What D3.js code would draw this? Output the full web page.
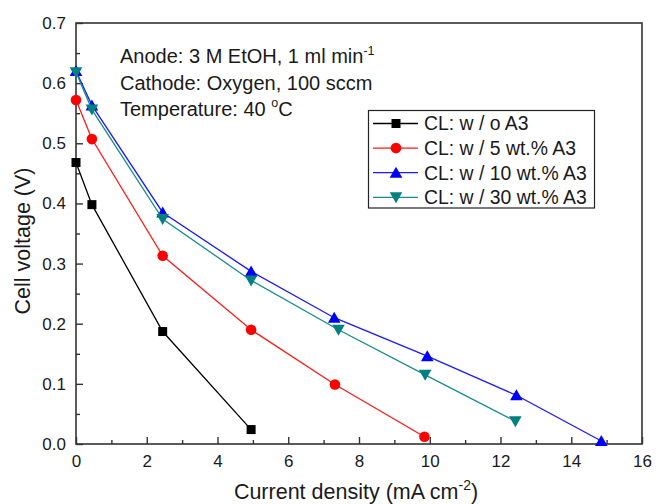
<!DOCTYPE html>
<html>
<head>
<meta charset="utf-8">
<script src="https://cdn.jsdelivr.net/npm/d3@7"></script>
<style>
  body { margin: 0; background: #fff; }
  svg text { font-family: "Liberation Sans", Arial, sans-serif; fill: #1a1a1a; }
</style>
</head>
<body>
<svg id="chart" width="657" height="504"></svg>
<script>
// series data (x: mA cm-2, y: V)
const seriesNames = ['CL: w / o A3', 'CL: w / 5 wt.% A3', 'CL: w / 10 wt.% A3', 'CL: w / 30 wt.% A3'];
const noA3 = [[0, 0.468], [0.45, 0.398], [2.45, 0.187], [4.95, 0.024]];
const a3_5 = [[0, 0.572], [0.45, 0.507], [2.45, 0.313], [4.95, 0.190], [7.32, 0.099], [9.85, 0.012]];
const a3_10 = [[0, 0.620], [0.45, 0.563], [2.45, 0.385], [4.95, 0.287], [7.3, 0.210], [9.93, 0.146], [12.45, 0.081], [14.85, 0.005]];
const a3_30 = [[0, 0.618], [0.45, 0.556], [2.45, 0.374], [4.95, 0.272], [7.42, 0.190], [9.87, 0.115], [12.42, 0.038]];
const xTicks = [0, 2, 4, 6, 8, 10, 12, 14, 16];
const yTicks = [0.0, 0.1, 0.2, 0.3, 0.4, 0.5, 0.6, 0.7];

let colors = ['#000000', '#ff0000', '#0000ff', '#008080'];
let lineColors = ['#000000', '#ff1a1a', '#1a1aff', '#1a8c8c'];
let symbols = ['square', 'circle', 'up', 'down'];
let allSeries = [noA3, a3_5, a3_10, a3_30];

let margin = {left: 76, right: 15, top: 23, bottom: 60};
let W = 657, H = 504;

let svg = d3.select('#chart');

let x = d3.scaleLinear().domain([0, 16]).range([margin.left, W - margin.right]);
let y = d3.scaleLinear().domain([0, 0.7]).range([H - margin.bottom, margin.top]);

// frame
svg.append('rect')
    .attr('x', x(0)).attr('y', y(0.7))
    .attr('width', x(16) - x(0)).attr('height', y(0) - y(0.7))
    .attr('fill', 'none').attr('stroke', '#333').attr('stroke-width', 1.6);

// ticks pointing inward
let xAxis = svg.append('g').attr('transform', `translate(0,${y(0)})`)
    .call(d3.axisBottom(x).tickValues(xTicks).tickSizeInner(-7).tickSizeOuter(0)
        .tickFormat(d3.format('d')).tickPadding(11));
let xMinor = svg.append('g').attr('transform', `translate(0,${y(0)})`)
    .call(d3.axisBottom(x).tickValues(d3.range(1, 16, 2)).tickSize(-4).tickFormat(''));

let yAxis = svg.append('g').attr('transform', `translate(${x(0)},0)`)
    .call(d3.axisLeft(y).tickValues(yTicks).tickSizeInner(-7).tickSizeOuter(0)
        .tickFormat(d3.format('.1f')).tickPadding(10));
let yMinor = svg.append('g').attr('transform', `translate(${x(0)},0)`)
    .call(d3.axisLeft(y).tickValues(d3.range(0.05, 0.7, 0.1)).tickSize(-4).tickFormat(''));

[xAxis, xMinor, yAxis, yMinor].forEach(g => {
    g.select('.domain').remove();
    g.selectAll('line').attr('stroke', '#333').attr('stroke-width', 1.4);
    g.selectAll('text').attr('font-size', 17).attr('fill', '#1a1a1a');
});
xAxis.selectAll('text').attr('dy', '0.71em');

// axis titles
let xTitle = svg.append('text')
    .attr('x', (x(0) + x(16)) / 2 - 3).attr('y', 499)
    .attr('text-anchor', 'middle').attr('font-size', 21.5)
    .text('Current density (mA cm');
xTitle.append('tspan').attr('font-size', 14).attr('dy', -9).text('-2');
xTitle.append('tspan').attr('dy', 9).text(')');

svg.append('text')
    .attr('transform', `translate(30,241) rotate(-90)`)
    .attr('text-anchor', 'middle').attr('font-size', 21.5)
    .text('Cell voltage (V)');

// annotation
let note = svg.append('g').attr('font-size', 20);
let l1 = note.append('text').attr('x', 120).attr('y', 63).text('Anode: 3 M EtOH, 1 ml min');
l1.append('tspan').attr('font-size', 12.5).attr('dy', -8).text('-1');
note.append('text').attr('x', 120).attr('y', 90).text('Cathode: Oxygen, 100 sccm');
let l3 = note.append('text').attr('x', 120).attr('y', 116).text('Temperature: 40 ');
l3.append('tspan').attr('font-size', 12.5).attr('dy', -9).text('o');
l3.append('tspan').attr('dy', 9).text('C');

// markers
function drawMarker(g, kind, color, cx, cy) {
    if (kind === 'square') {
        g.append('rect').attr('x', cx - 4.5).attr('y', cy - 4.5)
            .attr('width', 9).attr('height', 9).attr('fill', color);
    } else if (kind === 'circle') {
        g.append('circle').attr('cx', cx).attr('cy', cy).attr('r', 5.3).attr('fill', color);
    } else if (kind === 'up') {
        g.append('path').attr('d', `M${cx},${cy - 6} L${cx + 6.3},${cy + 5} L${cx - 6.3},${cy + 5}Z`)
            .attr('fill', color);
    } else {
        g.append('path').attr('d', `M${cx},${cy + 6} L${cx + 6.3},${cy - 5} L${cx - 6.3},${cy - 5}Z`)
            .attr('fill', color);
    }
}

let line = d3.line().x(d => x(d[0])).y(d => y(d[1]));

allSeries.forEach((data, i) => {
    let g = svg.append('g');
    g.append('path').datum(data)
        .attr('d', line)
        .attr('fill', 'none')
        .attr('stroke', lineColors[i])
        .attr('stroke-width', 1.3);
    data.forEach(d => drawMarker(g, symbols[i], colors[i], x(d[0]), y(d[1])));
});

// legend
let legend = svg.append('g');
legend.append('rect')
    .attr('x', 368.5).attr('y', 110.5).attr('width', 226).attr('height', 97.5)
    .attr('fill', '#fff').attr('stroke', '#222').attr('stroke-width', 1.2);
seriesNames.forEach((name, i) => {
    let ry = 123.5 + i * 24.6;
    legend.append('line').attr('x1', 373).attr('x2', 418).attr('y1', ry).attr('y2', ry)
        .attr('stroke', lineColors[i]).attr('stroke-width', 1.3);
    drawMarker(legend, symbols[i], colors[i], 396, ry);
    legend.append('text').attr('x', 424).attr('y', ry).attr('dy', '0.36em')
        .attr('font-size', 19.4).text(name);
});
</script>
</body>
</html>
